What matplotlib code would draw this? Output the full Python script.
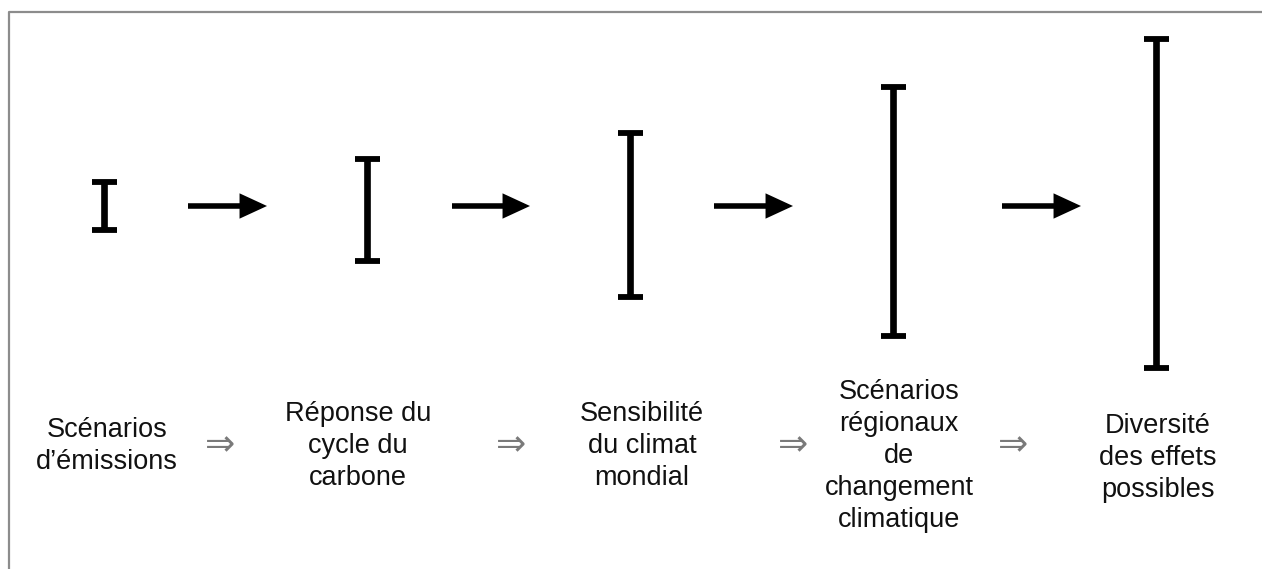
import matplotlib.pyplot as plt
from matplotlib.lines import Line2D

W, H = 1262, 569

stages = [
    "Scénarios\nd’émissions",
    "Réponse du\ncycle du\ncarbone",
    "Sensibilité\ndu climat\nmondial",
    "Scénarios\nrégionaux\nde\nchangement\nclimatique",
    "Diversité\ndes effets\npossibles",
]
# uncertainty range of each stage (arbitrary units)
range_low = [-2.3, -5.4, -9.0, -12.9, -16.1]
range_high = [2.5, 4.8, 7.4, 12.0, 16.8]

# layout (pixels)
X0, DX = 104, 263      # pixel column of stage 0, pixels per stage
Y0, DY = 207, 10       # pixel row of value 0, pixels per unit
label_px = [(107, 446), (358, 446), (642, 446), (899, 456), (1158, 458)]
arrow_px = [(188, 267), (452, 530), (714, 793), (1002, 1081)]
implies_px = [220, 511, 793, 1013]


def dx(px):
    return (px - X0) / DX


def dy(py):
    return (Y0 - py) / DY


fig = plt.figure(figsize=(W / 100, H / 100), dpi=100)
ax = fig.add_axes([0, 0, 1, 1])
ax.set_xlim(dx(0), dx(W))
ax.set_ylim(dy(H), dy(0))
ax.axis("off")

# frame (cropped box: only top and left edges visible)
fig.add_artist(Line2D([9 / W, 9 / W, 1], [0, 1 - 12 / H, 1 - 12 / H],
                      transform=fig.transFigure, color="#8c8c8c", lw=1.6))

xs = list(range(len(stages)))
mid = [(lo + hi) / 2 for lo, hi in zip(range_low, range_high)]
err = [[m - lo for m, lo in zip(mid, range_low)],
       [hi - m for m, hi in zip(mid, range_high)]]
ax.errorbar(xs, mid, yerr=err, fmt="none", ecolor="black",
            elinewidth=4.8, capsize=9, capthick=4.2)

for (x1, x2) in arrow_px:
    ax.annotate("", xy=(dx(x2), dy(206)), xytext=(dx(x1), dy(206)),
                arrowprops=dict(arrowstyle="-|>,head_length=0.65,head_width=0.3",
                                mutation_scale=20, lw=4.0, color="black",
                                capstyle="butt", joinstyle="miter",
                                shrinkA=0, shrinkB=0))

for text, (px, py) in zip(stages, label_px):
    ax.text(dx(px), dy(py), text, ha="center", va="center", multialignment="center",
            fontsize=19.5, family=["Liberation Sans", "DejaVu Sans"],
            color="#111111", linespacing=1.3)

for px in implies_px:
    ax.text(dx(px), dy(445), "⇒", ha="center", va="center", fontsize=26,
            family="DejaVu Sans", color="#7a7a7a")

fig.savefig("out.png", dpi=100)
